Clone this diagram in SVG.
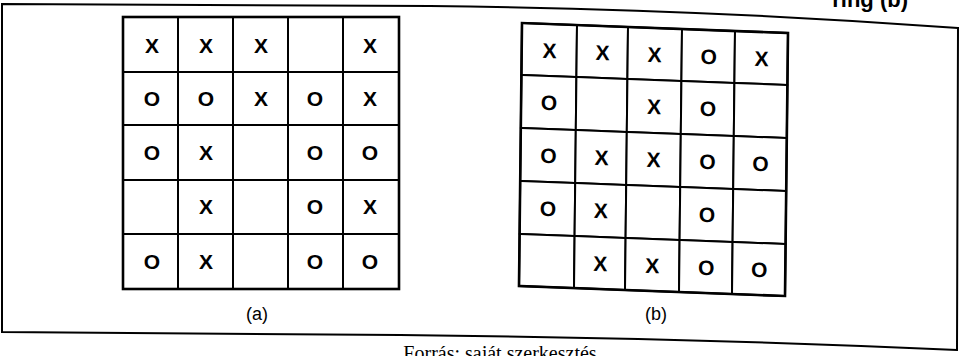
<svg xmlns="http://www.w3.org/2000/svg" width="964" height="356" viewBox="0 0 964 356">
<style>
.frame{fill:none;stroke:#000;stroke-width:2}
.cell{fill:#fff;stroke:#000;stroke-width:2;stroke-linejoin:round}
.outer{fill:none;stroke:#000;stroke-width:2.6}
.m{font-family:"Liberation Sans",Arial,sans-serif;font-weight:bold;font-size:21px;text-anchor:middle;fill:#000}
.cap{font-family:"Liberation Sans",Arial,sans-serif;font-size:18px;text-anchor:middle;fill:#000}
.hdr{font-family:"Liberation Sans",Arial,sans-serif;font-weight:bold;font-size:22px;text-anchor:end;fill:#000}
.src{font-family:"Liberation Serif","Times New Roman",serif;font-size:20px;text-anchor:middle;fill:#000}
</style>
<rect width="964" height="356" fill="#fff"/>
<g id="frame">
<path class="frame" d="M2,4 L430,6 Q700,9 958,28 L957,350 Q700,338 400,335 L2,332 Z"/>
</g>
<g id="header"><text class="hdr" x="908" y="7">ring (b)</text></g>
<g id="grid-a">
<g id="a-r1"><rect class="cell" x="123" y="17" width="55" height="55"/><rect class="cell" x="178" y="17" width="55" height="55"/><rect class="cell" x="233" y="17" width="55" height="55"/><rect class="cell" x="288" y="17" width="55" height="55"/><rect class="cell" x="343" y="17" width="56" height="55"/>
<text class="m" x="152" y="53">X</text><text class="m" x="206" y="53">X</text><text class="m" x="261" y="53">X</text><text class="m" x="370" y="53">X</text></g>
<g id="a-r2"><rect class="cell" x="123" y="72" width="55" height="53"/><rect class="cell" x="178" y="72" width="55" height="53"/><rect class="cell" x="233" y="72" width="55" height="53"/><rect class="cell" x="288" y="72" width="55" height="53"/><rect class="cell" x="343" y="72" width="56" height="53"/>
<text class="m" x="152" y="106">O</text><text class="m" x="206" y="106">O</text><text class="m" x="261" y="106">X</text><text class="m" x="315" y="106">O</text><text class="m" x="370" y="106">X</text></g>
<g id="a-r3"><rect class="cell" x="123" y="125" width="55" height="55"/><rect class="cell" x="178" y="125" width="55" height="55"/><rect class="cell" x="233" y="125" width="55" height="55"/><rect class="cell" x="288" y="125" width="55" height="55"/><rect class="cell" x="343" y="125" width="56" height="55"/>
<text class="m" x="152" y="160">O</text><text class="m" x="206" y="160">X</text><text class="m" x="315" y="160">O</text><text class="m" x="370" y="160">O</text></g>
<g id="a-r4"><rect class="cell" x="123" y="180" width="55" height="54"/><rect class="cell" x="178" y="180" width="55" height="54"/><rect class="cell" x="233" y="180" width="55" height="54"/><rect class="cell" x="288" y="180" width="55" height="54"/><rect class="cell" x="343" y="180" width="56" height="54"/>
<text class="m" x="206" y="214">X</text><text class="m" x="315" y="214">O</text><text class="m" x="370" y="214">X</text></g>
<g id="a-r5"><rect class="cell" x="123" y="234" width="55" height="55"/><rect class="cell" x="178" y="234" width="55" height="55"/><rect class="cell" x="233" y="234" width="55" height="55"/><rect class="cell" x="288" y="234" width="55" height="55"/><rect class="cell" x="343" y="234" width="56" height="55"/>
<text class="m" x="152" y="269">O</text><text class="m" x="206" y="269">X</text><text class="m" x="315" y="269">O</text><text class="m" x="370" y="269">O</text></g>
<rect class="outer" x="123" y="17" width="276" height="272"/>
</g>
<g id="grid-b" transform="matrix(1,0.0376,-0.0114,1,522,23)">
<g id="b-r1"><rect class="cell" x="0" y="0" width="55" height="52"/><rect class="cell" x="55" y="0" width="51" height="52"/><rect class="cell" x="106" y="0" width="54" height="52"/><rect class="cell" x="160" y="0" width="53" height="52"/><rect class="cell" x="213" y="0" width="53" height="52"/>
<text class="m" x="28" y="34">X</text><text class="m" x="81" y="34">X</text><text class="m" x="133" y="34">X</text><text class="m" x="187" y="34">O</text><text class="m" x="240" y="34">X</text></g>
<g id="b-r2"><rect class="cell" x="0" y="52" width="55" height="53"/><rect class="cell" x="55" y="52" width="51" height="53"/><rect class="cell" x="106" y="52" width="54" height="53"/><rect class="cell" x="160" y="52" width="53" height="53"/><rect class="cell" x="213" y="52" width="53" height="53"/>
<text class="m" x="28" y="86">O</text><text class="m" x="133" y="86">X</text><text class="m" x="187" y="86">O</text></g>
<g id="b-r3"><rect class="cell" x="0" y="105" width="55" height="53"/><rect class="cell" x="55" y="105" width="51" height="53"/><rect class="cell" x="106" y="105" width="54" height="53"/><rect class="cell" x="160" y="105" width="53" height="53"/><rect class="cell" x="213" y="105" width="53" height="53"/>
<text class="m" x="28" y="139">O</text><text class="m" x="81" y="139">X</text><text class="m" x="133" y="139">X</text><text class="m" x="187" y="139">O</text><text class="m" x="240" y="139">O</text></g>
<g id="b-r4"><rect class="cell" x="0" y="158" width="55" height="53"/><rect class="cell" x="55" y="158" width="51" height="53"/><rect class="cell" x="106" y="158" width="54" height="53"/><rect class="cell" x="160" y="158" width="53" height="53"/><rect class="cell" x="213" y="158" width="53" height="53"/>
<text class="m" x="28" y="192">O</text><text class="m" x="81" y="192">X</text><text class="m" x="187" y="192">O</text></g>
<g id="b-r5"><rect class="cell" x="0" y="211" width="55" height="52"/><rect class="cell" x="55" y="211" width="51" height="52"/><rect class="cell" x="106" y="211" width="54" height="52"/><rect class="cell" x="160" y="211" width="53" height="52"/><rect class="cell" x="213" y="211" width="53" height="52"/>
<text class="m" x="81" y="245">X</text><text class="m" x="133" y="245">X</text><text class="m" x="187" y="245">O</text><text class="m" x="240" y="245">O</text></g>
<rect class="outer" x="0" y="0" width="266" height="263"/>
</g>
<g id="caption-a"><text class="cap" x="257" y="320">(a)</text></g>
<g id="caption-b"><text class="cap" x="656" y="320">(b)</text></g>
<g id="connectors"/>
<g id="source"><text class="src" x="500" y="360">Forrás: saját szerkesztés</text></g>
</svg>
